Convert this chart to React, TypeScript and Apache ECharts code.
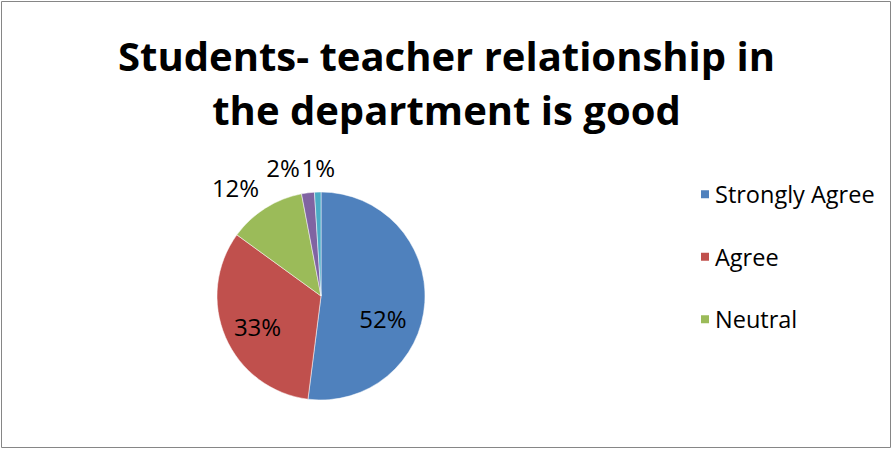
import React, { useEffect, useRef } from "react";
import * as echarts from "echarts";

const TITLE = "Students- teacher relationship in\nthe department is good";
const CATEGORIES = ["Strongly Agree", "Agree", "Neutral", "Disagree", "Strongly Disagree"];
const VALUES = [52, 33, 12, 2, 1];
const LEGEND_ITEMS = ["Strongly Agree", "Agree", "Neutral"];
const COLORS = ["#4F81BD", "#C0504D", "#9BBB59", "#8064A2", "#4BACC6"];
// label shifts from the inside default position (dx, dy)
const LABEL_SHIFT = [
  [7, 19],
  [-13, 9],
  [-56, -62],
  [-31, -74],
  [-1, -74],
];

const FONT = "'Open Sans', Lato, sans-serif";

export default function App() {
  const ref = useRef<HTMLDivElement>(null);
  useEffect(() => {
    if (!ref.current) return;
    const chart = echarts.init(ref.current, null, { renderer: "svg" });
    chart.setOption({
      animation: false,
      backgroundColor: "#fff",
      title: {
        text: TITLE,
        left: "center",
        top: 23,
        textStyle: {
          fontFamily: FONT,
          fontWeight: "bold",
          fontSize: 40,
          lineHeight: 54,
          color: "#000",
        },
      },
      legend: {
        orient: "vertical",
        left: 694,
        top: 175,
        data: LEGEND_ITEMS,
        icon: "rect",
        itemWidth: 10,
        itemHeight: 10,
        itemGap: 34,
        textStyle: { fontFamily: FONT, fontSize: 23.5, color: "#000", lineHeight: 28.5 },
      },
      graphic: [
        {
          type: "rect",
          shape: { x: 1.5, y: 1.5, width: 889, height: 446 },
          style: { fill: "none", stroke: "#868686", lineWidth: 1 },
          silent: true,
        },
      ],
      series: [
        {
          type: "pie",
          center: [321, 296],
          radius: 104,
          startAngle: 90,
          clockwise: true,
          avoidLabelOverlap: false,
          itemStyle: { borderColor: "#fff", borderWidth: 0.5 },
          label: {
            show: true,
            position: "inside",
            formatter: (p: any) => p.value + "%",
            fontFamily: FONT,
            fontSize: 24,
            color: "#000",
          },
          labelLine: { show: false },
          labelLayout: (p: any) => {
            const s = LABEL_SHIFT[p.dataIndex];
            return { dx: s[0], dy: s[1] };
          },
          data: CATEGORIES.map((name, i) => ({
            name,
            value: VALUES[i],
            itemStyle: { color: COLORS[i] },
          })),
        },
      ],
    });
    return () => chart.dispose();
  }, []);
  return (
    <div
      ref={ref}
      style={{ position: "absolute", left: 0, top: 0, width: 893, height: 450 }}
    />
  );
}
